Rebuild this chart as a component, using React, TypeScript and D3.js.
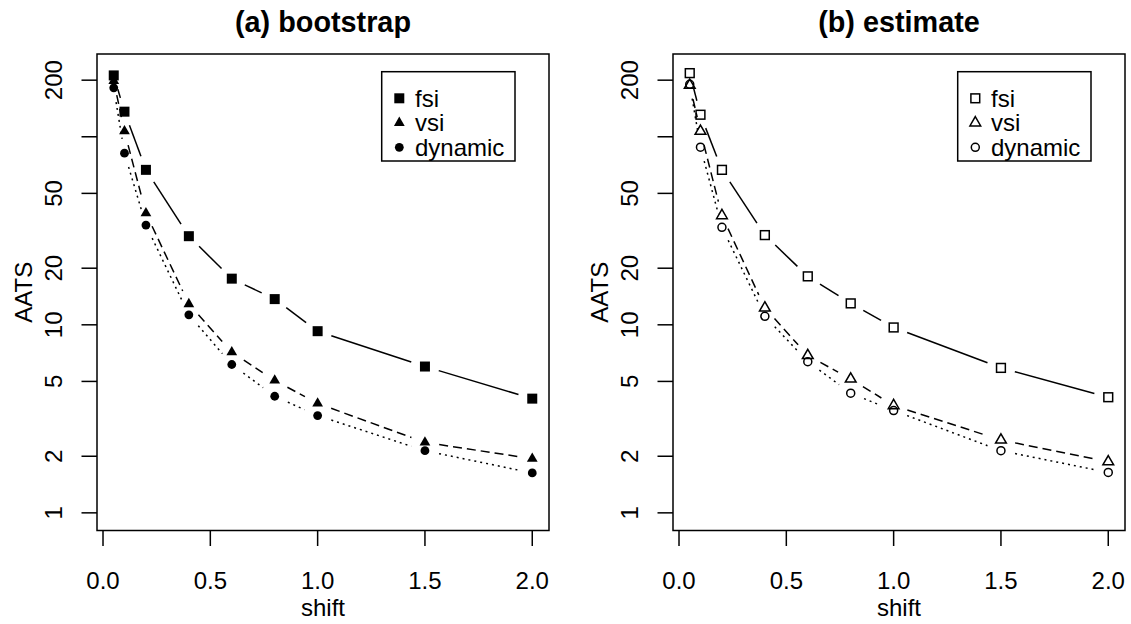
import React from 'react';
import * as d3 from 'd3';

// data
const shift = [0.05, 0.1, 0.2, 0.4, 0.6, 0.8, 1.0, 1.5, 2.0];

const bootFsi = [212, 136, 66.7, 29.6, 17.6, 13.7, 9.25, 6.0, 4.05];
const bootVsi = [198, 107, 39.2, 12.9, 7.15, 5.06, 3.82, 2.37, 1.94];
const bootDynamic = [182, 81.8, 33.9, 11.3, 6.15, 4.17, 3.29, 2.14, 1.63];

const estFsi = [218, 131, 66.7, 30, 18.1, 13.0, 9.68, 5.9, 4.12];
const estVsi = [188, 107, 38.1, 12.3, 6.87, 5.15, 3.72, 2.44, 1.87];
const estDynamic = [190, 88, 33, 11.1, 6.37, 4.33, 3.5, 2.14, 1.64];

const seriesNames = ['fsi', 'vsi', 'dynamic'];
const panelTitles = ['(a) bootstrap', '(b) estimate'];

const xTicks = [0, 0.5, 1, 1.5, 2];
const xTickLabels = ['0.0', '0.5', '1.0', '1.5', '2.0'];
const yTicks = [1, 2, 5, 10, 20, 50, 100, 200];
const yTickLabels = ['1', '2', '5', '10', '20', '50', '', '200'];

const xLim: [number, number] = [0.05, 2];
const yLim: [number, number] = [1, 222];

const FONT = '"Liberation Sans", Arial, Helvetica, sans-serif';
const LW = 1.5;
const GAP = 14.4; // type="b" gap around points
const dashes = ['none', '9,5', '2,4'];

// R style 4% axis extension
const extend = ([a, b]: [number, number]) => {
  const d = (b - a) * 0.04;
  return [a - d, b + d];
};
const [ly0, ly1] = extend([Math.log10(yLim[0]), Math.log10(yLim[1])]);

const top = 54;
const bottom = 530.5;
const boxW = 452;

function marker(kind: number, filled: boolean, cx: number, cy: number, key: string) {
  if (kind === 0) {
    const h = filled ? 5 : 4.4;
    return filled ? (
      <rect key={key} x={cx - h} y={cy - h} width={2 * h} height={2 * h} fill="#000" />
    ) : (
      <rect key={key} x={cx - h} y={cy - h} width={2 * h} height={2 * h} fill="none" stroke="#000" strokeWidth={LW} />
    );
  }
  if (kind === 1) {
    const R = 4;
    const r = 1.5551 * R;
    const yc = r / 2;
    const xc = 1.3468 * R;
    const d = `M${cx},${cy - r}L${cx + xc},${cy + yc}L${cx - xc},${cy + yc}Z`;
    return filled ? (
      <path key={key} d={d} fill="#000" />
    ) : (
      <path key={key} d={d} fill="none" stroke="#000" strokeWidth={LW} />
    );
  }
  return filled ? (
    <circle key={key} cx={cx} cy={cy} r={4.4} fill="#000" />
  ) : (
    <circle key={key} cx={cx} cy={cy} r={4.0} fill="none" stroke="#000" strokeWidth={LW} />
  );
}

interface PanelProps {
  left: number;
  title: string;
  series: number[][];
  filled: boolean;
}

const Panel: React.FC<PanelProps> = ({ left, title, series, filled }) => {
  const right = left + boxW;
  const x = d3.scaleLinear().domain(extend(xLim)).range([left, right]);
  const y = d3.scaleLog().domain([Math.pow(10, ly0), Math.pow(10, ly1)]).range([bottom, top]);
  const cxm = (left + right) / 2;
  const cym = (top + bottom) / 2;

  const segs = (vals: number[], si: number) => {
    const pts = vals.map((v, i) => [x(shift[i]), y(v)]);
    const out: JSX.Element[] = [];
    for (let i = 0; i < pts.length - 1; i++) {
      const [x1, y1] = pts[i];
      const [x2, y2] = pts[i + 1];
      const dx = x2 - x1;
      const dy = y2 - y1;
      const d = Math.sqrt(dx * dx + dy * dy);
      if (d <= 2 * GAP) continue;
      const ux = dx / d;
      const uy = dy / d;
      out.push(
        <line
          key={`s${si}-${i}`}
          x1={x1 + ux * GAP}
          y1={y1 + uy * GAP}
          x2={x2 - ux * GAP}
          y2={y2 - uy * GAP}
          stroke="#000"
          strokeWidth={LW}
          strokeDasharray={dashes[si]}
        />
      );
    }
    return out;
  };

  const legL = left + 284.7;
  const legR = left + 418;
  const legT = 71.7;
  const legB = 161;
  const rowY = (i: number) => 98.3 + i * 24.5;

  return (
    <g fontFamily={FONT}>
      <text x={cxm} y={32} textAnchor="middle" fontSize={28.8} fontWeight="bold">
        {title}
      </text>
      {/* x axis */}
      {xTicks.map((t, i) => (
        <g key={`xt${i}`}>
          <line x1={x(t)} x2={x(t)} y1={bottom} y2={bottom + 15.5} stroke="#000" strokeWidth={LW} />
          <text x={x(t)} y={589} textAnchor="middle" fontSize={24}>
            {xTickLabels[i]}
          </text>
        </g>
      ))}
      <text x={cxm} y={616} textAnchor="middle" fontSize={24}>
        shift
      </text>
      {/* y axis */}
      {yTicks.map((t, i) => (
        <g key={`yt${i}`}>
          <line x1={left - 15.5} x2={left} y1={y(t)} y2={y(t)} stroke="#000" strokeWidth={LW} />
          {yTickLabels[i] && (
            <text transform={`translate(${left - 35},${y(t)}) rotate(-90)`} textAnchor="middle" fontSize={24}>
              {yTickLabels[i]}
            </text>
          )}
        </g>
      ))}
      <text transform={`translate(${left - 65},${cym}) rotate(-90)`} textAnchor="middle" fontSize={24}>
        AATS
      </text>
      {/* series */}
      {series.map((vals, si) => segs(vals, si))}
      {series.map((vals, si) =>
        vals.map((v, i) => marker(si, filled, x(shift[i]), y(v), `m${si}-${i}`))
      )}
      <rect x={left} y={top} width={boxW} height={bottom - top} fill="none" stroke="#000" strokeWidth={LW} />
      {/* legend */}
      <rect x={legL} y={legT} width={legR - legL} height={legB - legT} fill="none" stroke="#000" strokeWidth={LW} />
      {seriesNames.map((name, i) => (
        <g key={`lg${i}`}>
          {marker(i, filled, legL + 17.6, rowY(i), `lm${i}`)}
          <text x={legL + 33.3} y={rowY(i) + 8.4} fontSize={24}>
            {name}
          </text>
        </g>
      ))}
    </g>
  );
};

export default function App() {
  return (
    <svg
      width={1131}
      height={624}
      style={{ position: 'absolute', left: 0, top: 0, background: '#fff' }}
    >
      <rect width={1131} height={624} fill="#fff" />
      <Panel left={97} title={panelTitles[0]} series={[bootFsi, bootVsi, bootDynamic]} filled={true} />
      <Panel left={673} title={panelTitles[1]} series={[estFsi, estVsi, estDynamic]} filled={false} />
    </svg>
  );
}
